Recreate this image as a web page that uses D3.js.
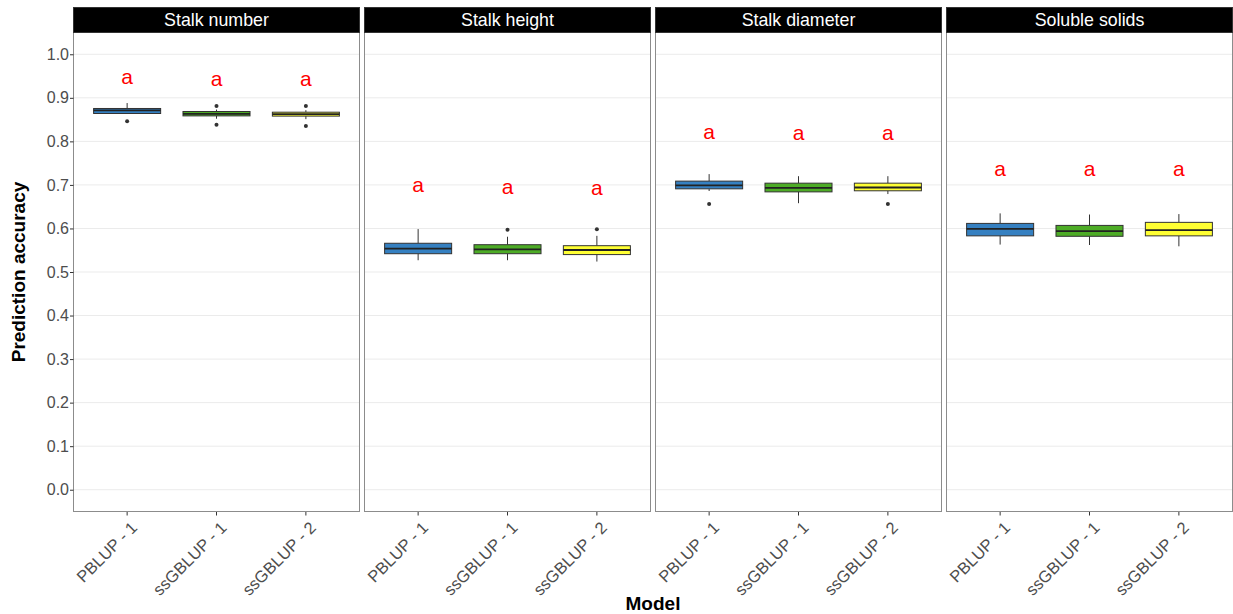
<!DOCTYPE html>
<html>
<head>
<meta charset="utf-8">
<script src="https://cdn.jsdelivr.net/npm/d3@7"></script>
<style>
  body { margin: 0; background: #fff; }
  svg { display: block; font-family: "Liberation Sans", Arial, sans-serif; }
</style>
</head>
<body>
<svg id="chart" width="1233" height="614"></svg>
<script>
// Prediction accuracy of three models across four sugarcane traits
const traits = ["Stalk number", "Stalk height", "Stalk diameter", "Soluble solids"];
const models = ["PBLUP - 1", "ssGBLUP - 1", "ssGBLUP - 2"];
const modelColors = ["#3580C1", "#4DAC26", "#FFFF33"];
const yTicks = [0.0, 0.1, 0.2, 0.3, 0.4, 0.5, 0.6, 0.7, 0.8, 0.9, 1.0];

// Box statistics, one row per trait, one value per model
const whiskerLow = [
  [0.864, 0.852, 0.851],
  [0.527, 0.527, 0.524],
  [0.686, 0.658, 0.679],
  [0.563, 0.562, 0.559]
];
const q1 = [
  [0.864, 0.8585, 0.858],
  [0.542, 0.542, 0.540],
  [0.691, 0.684, 0.6865],
  [0.583, 0.582, 0.583]
];
const median = [
  [0.871, 0.863, 0.8625],
  [0.5535, 0.552, 0.5505],
  [0.699, 0.693, 0.694],
  [0.599, 0.594, 0.596]
];
const q3 = [
  [0.8755, 0.8686, 0.867],
  [0.566, 0.5627, 0.5604],
  [0.7087, 0.704, 0.704],
  [0.6116, 0.607, 0.614]
];
const whiskerHigh = [
  [0.888, 0.873, 0.8716],
  [0.5986, 0.581, 0.583],
  [0.7248, 0.720, 0.720],
  [0.6346, 0.632, 0.633]
];
const outliers = [
  [[0.846], [0.881, 0.838], [0.881, 0.8355]],
  [[], [0.597], [0.598]],
  [[0.656], [], [0.656]],
  [[], [], []]
];
// Significance letters and their heights
const groupLetters = [
  ["a", "a", "a"], ["a", "a", "a"], ["a", "a", "a"], ["a", "a", "a"]
];
const letterY = [
  [0.947, 0.942, 0.942],
  [0.6977, 0.6946, 0.691],
  [0.820, 0.817, 0.817],
  [0.7344, 0.7344, 0.7358]
];

const svg = d3.select("#chart");
const panelLeft = 73.5, panelW = 286, panelGap = 5;
const stripTop = 7.5, stripH = 25;
const plotTop = stripTop + stripH, plotBottom = 511.5;

const y = d3.scaleLinear().domain([-0.05, 1.05]).range([plotBottom, plotTop]);

traits.forEach((trait, t) => {
  const x0 = panelLeft + t * (panelW + panelGap);
  // discrete axis: category centres with 0.6-unit expansion on each side
  const x = d3.scalePoint().domain(models).range([x0, x0 + panelW]).padding(0.6);
  const unit = x.step();
  const boxW = unit * 0.75;

  const g = svg.append("g");

  // grid
  g.selectAll("line.grid").data(yTicks).join("line")
    .attr("x1", x0).attr("x2", x0 + panelW)
    .attr("y1", d => y(d)).attr("y2", d => y(d))
    .attr("stroke", "#ebebeb").attr("stroke-width", 1);

  // boxes
  models.forEach((m, i) => {
    const c = x(m);
    const col = modelColors[i];
    g.append("line")
      .attr("x1", c).attr("x2", c)
      .attr("y1", y(q3[t][i])).attr("y2", y(whiskerHigh[t][i]))
      .attr("stroke", "#333").attr("stroke-width", 1);
    g.append("line")
      .attr("x1", c).attr("x2", c)
      .attr("y1", y(q1[t][i])).attr("y2", y(whiskerLow[t][i]))
      .attr("stroke", "#333").attr("stroke-width", 1);
    g.append("rect")
      .attr("x", c - boxW / 2).attr("width", boxW)
      .attr("y", y(q3[t][i])).attr("height", y(q1[t][i]) - y(q3[t][i]))
      .attr("fill", col).attr("stroke", "#333").attr("stroke-width", 1);
    g.append("line")
      .attr("x1", c - boxW / 2).attr("x2", c + boxW / 2)
      .attr("y1", y(median[t][i])).attr("y2", y(median[t][i]))
      .attr("stroke", "#222").attr("stroke-width", 1.8);
    g.selectAll(null).data(outliers[t][i]).join("circle")
      .attr("cx", c).attr("cy", d => y(d)).attr("r", 2)
      .attr("fill", "#333");
    g.append("text")
      .attr("x", c).attr("y", y(letterY[t][i]))
      .attr("dy", "0.3em")
      .attr("text-anchor", "middle")
      .attr("fill", "#ff0000").attr("font-size", 21)
      .text(groupLetters[t][i]);

    // x tick and label
    g.append("line")
      .attr("x1", c).attr("x2", c)
      .attr("y1", plotBottom).attr("y2", plotBottom + 4)
      .attr("stroke", "#333");
    g.append("text")
      .attr("transform", `translate(${c + 3},${plotBottom + 9}) rotate(-45)`)
      .attr("text-anchor", "end")
      .attr("fill", "#4d4d4d").attr("font-size", 16.5)
      .attr("dy", "0.7em")
      .text(m);
  });

  // panel border
  g.append("rect")
    .attr("x", x0).attr("y", plotTop).attr("width", panelW).attr("height", plotBottom - plotTop)
    .attr("fill", "none").attr("stroke", "#8c8c8c").attr("stroke-width", 1);

  // strip
  g.append("rect")
    .attr("x", x0).attr("y", stripTop).attr("width", panelW).attr("height", stripH)
    .attr("fill", "#000").attr("stroke", "#333").attr("stroke-width", 1);
  g.append("text")
    .attr("x", x0 + panelW / 2).attr("y", stripTop + stripH / 2)
    .attr("dy", "0.36em").attr("text-anchor", "middle")
    .attr("fill", "#fff").attr("font-size", 17.8)
    .text(trait);
});

// y axis on the first panel
const yAxis = d3.axisLeft(y).tickValues(yTicks).tickFormat(d3.format(".1f")).tickSize(3.5).tickPadding(1);
const ya = svg.append("g").attr("transform", `translate(${panelLeft},0)`).call(yAxis);
ya.select(".domain").remove();
ya.selectAll(".tick line").attr("stroke", "#333");
ya.selectAll(".tick text").attr("fill", "#4d4d4d").attr("font-size", 16)
  .style("font-family", "Liberation Sans, Arial, sans-serif");

// axis titles
svg.append("text")
  .attr("transform", `translate(25,${(plotTop + plotBottom) / 2}) rotate(-90)`)
  .attr("text-anchor", "middle").attr("font-size", 19).attr("font-weight", "bold")
  .attr("fill", "#000")
  .text("Prediction accuracy");
svg.append("text")
  .attr("x", panelLeft + (4 * panelW + 3 * panelGap) / 2).attr("y", 610)
  .attr("text-anchor", "middle").attr("font-size", 19).attr("font-weight", "bold")
  .attr("fill", "#000")
  .text("Model");
</script>
</body>
</html>
